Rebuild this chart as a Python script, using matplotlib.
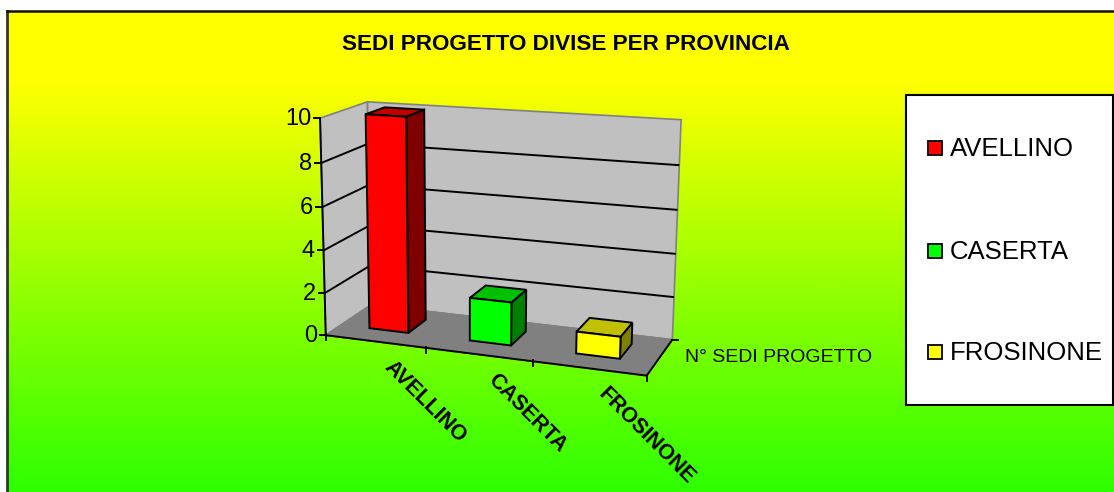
import matplotlib
matplotlib.use('Agg')
import matplotlib.pyplot as plt
from matplotlib.patches import Polygon, Rectangle
from matplotlib.colors import LinearSegmentedColormap
import numpy as np

# data
province = ['AVELLINO', 'CASERTA', 'FROSINONE']
sedi = [10, 2, 1]
y_ticks = [0, 2, 4, 6, 8, 10]
serie = 'N° SEDI PROGETTO'
titolo = 'SEDI PROGETTO DIVISE PER PROVINCIA'

colori = ['#ff0000', '#00ff00', '#ffff00']
colori_top = ['#c00000', '#00c000', '#c0c000']
colori_lato = ['#800000', '#008000', '#808000']

plt.rcParams['font.family'] = ['Liberation Sans', 'DejaVu Sans']

fig = plt.figure(figsize=(11.14, 4.92), dpi=100)
ax = fig.add_axes([0, 0, 1, 1])
ax.axis('off')

# sfondo sfumato giallo -> verde
cmap = LinearSegmentedColormap.from_list('sf', [(0, '#ffff00'), (0.12, '#ffff00'), (1, '#00ff00')])
grad = np.linspace(0, 1, 512).reshape(-1, 1)
ax.imshow(grad, cmap=cmap, extent=(8, 1114, 580, 12), aspect='auto', zorder=0)
ax.set_xlim(0, 1114)
ax.set_ylim(492, 0)
ax.plot([7, 7], [492, 11], color='#333333', lw=2, zorder=1)
ax.plot([7, 1114], [11, 11], color='#111111', lw=1.8, zorder=1)

# camera: la scena 3D e' proiettata come in Excel, calibrata sugli angoli del grafico
n = len(province)
ymax = y_ticks[-1]
mondo = [(0, 0, 0), (0, ymax, 0), (0, 0, 1), (0, ymax, 1), (n, ymax, 1), (n, 0, 1), (n, 0, 0), (1, 0, 0), (2, 0, 0)]
schermo = [(326.7, 334.3), (319.3, 118), (370, 306), (368.3, 101.7), (681, 120), (672.7, 338.3), (646.7, 376), (426.7, 347), (532.7, 363)]
A = []
for (X, Y, Z), (u, v) in zip(mondo, schermo):
    A.append([X, Y, Z, 1, 0, 0, 0, 0, -u * X, -u * Y, -u * Z, -u])
    A.append([0, 0, 0, 0, X, Y, Z, 1, -v * X, -v * Y, -v * Z, -v])
P = np.linalg.svd(np.array(A))[2][-1].reshape(3, 4)


def proj(x, y, z):
    p = P @ np.array([x, y, z, 1.0])
    return p[0] / p[2], p[1] / p[2]


def faccia(punti, fc, ec='black', lw=1.4, zo=3):
    ax.add_patch(Polygon([proj(*p) for p in punti], closed=True, fc=fc, ec=ec, lw=lw, zorder=zo, joinstyle='miter'))


def linea(punti, lw=1.4, color='black', zo=2.5):
    xy = np.array([proj(*p) for p in punti])
    ax.plot(xy[:, 0], xy[:, 1], color=color, lw=lw, zorder=zo, solid_capstyle='butt')


# pareti e pavimento
faccia([(0, 0, 0), (0, ymax, 0), (0, ymax, 1), (0, 0, 1)], '#c0c0c0', ec='#808080', lw=1.2, zo=2)
faccia([(0, 0, 1), (0, ymax, 1), (n, ymax, 1), (n, 0, 1)], '#c0c0c0', ec='#808080', lw=1.2, zo=2)
faccia([(0, 0, 0), (0, 0, 1), (n, 0, 1), (n, 0, 0)], '#808080', ec='#808080', lw=1.2, zo=2)

# griglia
for t in y_ticks[1:-1]:
    linea([(0, t, 0), (0, t, 1), (n, t, 1)])

# assi
linea([(0, 0, 0), (0, ymax, 0)])
linea([(0, 0, 0), (n, 0, 0)])
linea([(n, 0, 0), (n, 0, 1)])
for t in y_ticks:
    x0, y0 = proj(0, t, 0)
    ax.plot([x0 - 6, x0], [y0, y0], color='black', lw=1.4, zorder=2.5)
    ax.text(x0 - 9, y0 + 1, str(t), ha='right', va='center', fontsize=17, color='black', zorder=5)
for i in range(n + 1):
    x0, y0 = proj(i, 0, 0)
    ax.plot([x0, x0], [y0 - 1, y0 + 5], color='black', lw=1.4, zorder=2.5)
x0, y0 = proj(n, 0, 1)
ax.plot([x0, x0 + 6], [y0, y0], color='black', lw=1.4, zorder=2.5)

# barre
xa, xb = 0.29, 0.685
za, zb = 0.33, 0.75
for i, v in enumerate(sedi):
    l, r = i + xa, i + xb
    faccia([(r, 0, za), (r, v, za), (r, v, zb), (r, 0, zb)], colori_lato[i], zo=3 + i)
    faccia([(l, v, za), (r, v, za), (r, v, zb), (l, v, zb)], colori_top[i], zo=3 + i)
    faccia([(l, 0, za), (r, 0, za), (r, v, za), (l, v, za)], colori[i], zo=3 + i)

# etichette categorie
for i, nome in enumerate(province):
    x0, y0 = proj(i + 0.5, 0, 0)
    ax.text(x0 + 12, y0 + 23, nome, rotation=-45, rotation_mode='anchor', ha='left', va='center',
            fontsize=15.5, fontweight='bold', color='black', zorder=5)

ax.text(685, 358, serie, ha='left', va='center', fontsize=14, color='black', zorder=5)
ax.text(566, 45, titolo, ha='center', va='center', fontsize=16.2, fontweight='bold', color='black', zorder=5)

# legenda
ax.add_patch(Rectangle((906, 95), 207, 310, fc='white', ec='black', lw=1.5, zorder=5))
for nome, c, yc in zip(province, colori, [148, 250.5, 352]):
    ax.add_patch(Rectangle((928, yc - 7), 14, 14, fc=c, ec='black', lw=1.3, zorder=6))
    ax.text(950, yc + 1.5, nome, ha='left', va='center', fontsize=18.5, color='black', zorder=6)

fig.savefig('out.png', dpi=100)
